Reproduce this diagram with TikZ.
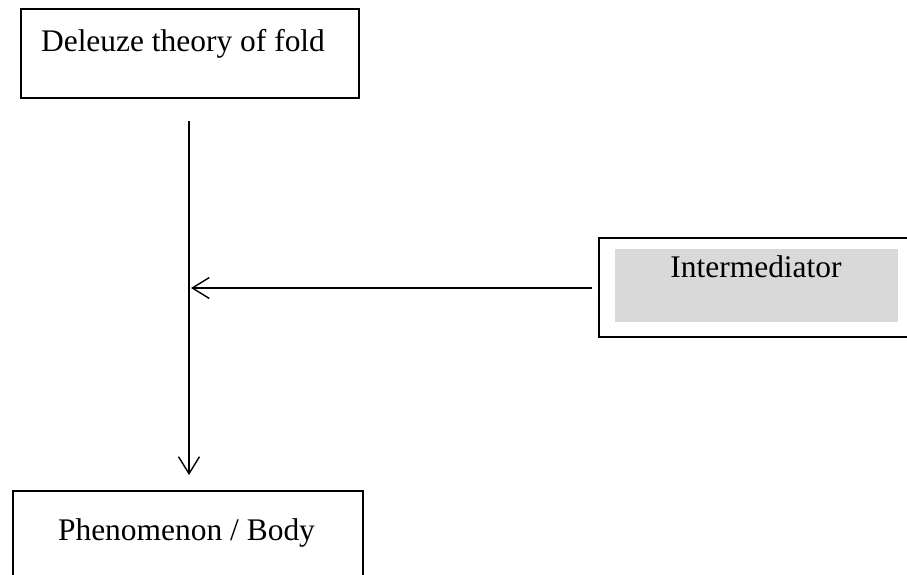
\documentclass[tikz,border=0pt]{standalone}
\usepackage{fontspec}
\setmainfont{Liberation Serif}
\usepackage{tikz}
\usetikzlibrary{arrows.meta}
\definecolor{boxfill}{HTML}{D9D9D9}
\tikzset{
  every picture/.style={line join=miter, >={Straight Barb[length=0.34cm,width=0.42cm]}},
  box/.style={draw, line width=1.1pt, inner sep=0pt},
  shade box/.style={fill=boxfill, draw=none, inner sep=0pt},
  label text/.style={anchor=base, inner sep=0pt, font=\fontsize{17.9pt}{21pt}\selectfont},
  link/.style={->, line width=0.8pt},
}

\begin{document}
\begin{tikzpicture}
\clip (0.000,0.000) rectangle (18.140,11.480);
\node[box,minimum width=6.760cm,minimum height=1.780cm] (fold) at (3.800,10.410) {};
\node[label text] (foldtext) at (3.660,10.440) {Deleuze theory of fold};
\node[box,minimum width=6.320cm,minimum height=1.980cm] (mid) at (15.140,5.730) {};
\node[shade box,minimum width=5.660cm,minimum height=1.460cm] (midfill) at (15.130,5.770) {};
\node[label text] (midtext) at (15.120,5.940) {Intermediator};
\node[box,minimum width=7.000cm,minimum height=2.400cm] (body) at (3.760,0.460) {};
\node[label text] (bodytext) at (3.730,0.680) {Phenomenon / Body};
\coordinate (stemtop) at (3.780,9.060);
\coordinate (stembot) at (3.780,1.980);
\coordinate (join) at (3.820,5.720);
\draw[link] (stemtop) -- (stembot);
\draw[link] ([xshift=-0.120cm]mid.west |- join) -- (join);
\end{tikzpicture}
\end{document}
